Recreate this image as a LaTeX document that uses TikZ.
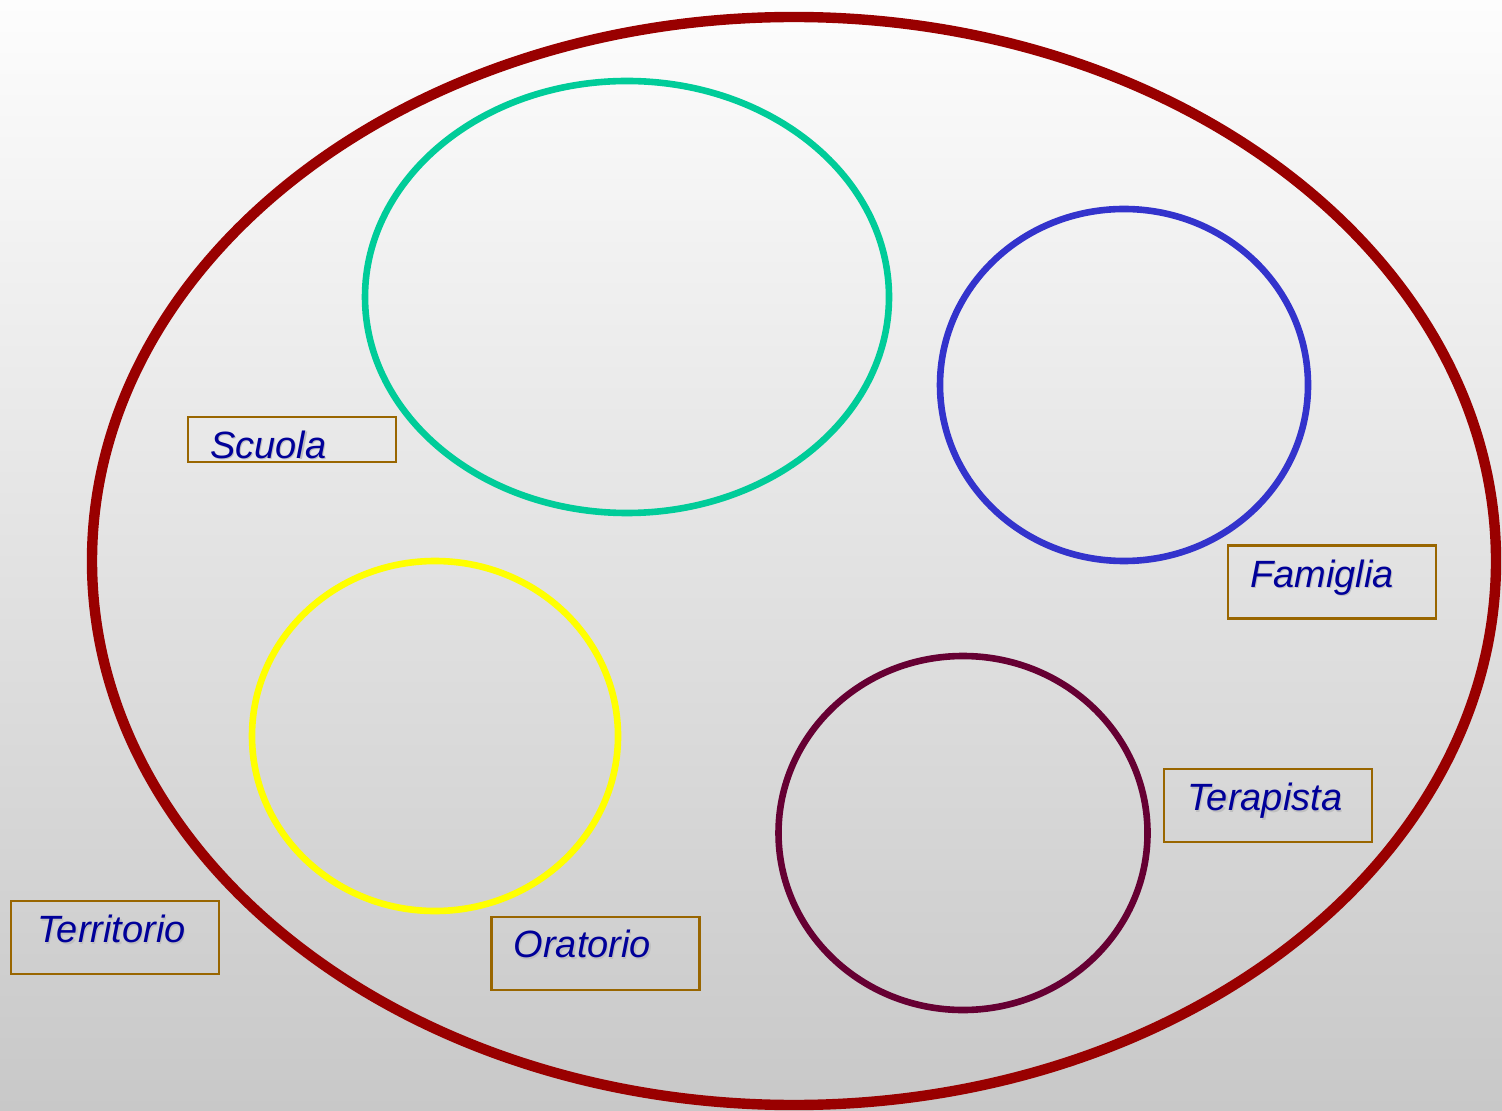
\documentclass[tikz,border=0pt]{standalone}
\usepackage{fontspec}
\setmainfont{Liberation Sans}
\usetikzlibrary{shapes.geometric, positioning}

\definecolor{bgtop}{RGB}{253,253,253}
\definecolor{bgbot}{RGB}{200,200,200}
\definecolor{outerred}{RGB}{153,0,0}
\definecolor{ringgreen}{RGB}{0,204,153}
\definecolor{ringblue}{RGB}{51,51,204}
\definecolor{ringyellow}{RGB}{255,255,0}
\definecolor{ringmaroon}{RGB}{102,0,51}
\definecolor{boxbrown}{RGB}{153,102,0}
\definecolor{txtblue}{RGB}{0,0,153}

% text with its light shadow
\newcommand{\shlabel}[1]{\rlap{\hspace{0.6pt}\raisebox{-0.6pt}{\color{black!25}#1}}#1}

\begin{document}
\begin{tikzpicture}[
                  x=0.5pt, y=0.5pt,
                  ring/.style={draw, ellipse, inner sep=0pt, line width=3.3pt},
                  tag/.style={draw=boxbrown, rectangle, line width=1.2pt, inner sep=0pt,
                              minimum width=104pt, minimum height=36.5pt},
                  tagtext/.style={anchor=base west, inner sep=0pt, text=txtblue,
                              font=\fontsize{19}{21}\selectfont\itshape},
            ]
            \fill[top color=bgtop, bottom color=bgbot] (0,0) rectangle (1502,-1111);
            \useasboundingbox (0,0) rectangle (1502,-1111);

            % big ellipse and the four rings
            \node[ring, draw=outerred, line width=5.2pt, minimum width=702pt,
                  minimum height=544pt] (world) at (794,-561) {};
            \node[ring, draw=ringgreen, minimum width=262pt, minimum height=216pt]
                  (school) at (627,-297) {};
            \node[ring, draw=ringblue, minimum width=184pt, minimum height=176pt]
                  (family) at (1124,-385) {};
            \node[ring, draw=ringyellow, minimum width=183pt, minimum height=175pt]
                  (oratory) at (435,-736) {};
            \node[ring, draw=ringmaroon, minimum width=184.5pt, minimum height=177pt]
                  (therapist) at (963,-833) {};

            % labels
            \node[tag, minimum height=22.5pt] (schoolbox) at (292,-439.5) {};
            \node[tag] (familybox) at (1332,-582) {};
            \node[tag] (therapistbox) at (1268,-805.5) {};
            \node[tag] (worldbox) at (115,-937.5) {};
            \node[tag] (oratorybox) at (595.5,-953.5) {};

            \node[tagtext] (schooltxt) at ([shift={(23,-43)}]schoolbox.north west)
                  {\shlabel{Scuola}};
            \node[tagtext] (familytxt) at ([shift={(23,-43)}]familybox.north west)
                  {\shlabel{Famiglia}};
            \node[tagtext] (therapisttxt) at ([shift={(24,-43)}]therapistbox.north west)
                  {\shlabel{Terapista}};
            \node[tagtext] (worldtxt) at ([shift={(27,-43)}]worldbox.north west)
                  {\shlabel{Territorio}};
            \node[tagtext] (oratorytxt) at ([shift={(23,-42)}]oratorybox.north west)
                  {\shlabel{Oratorio}};
      \end{tikzpicture}
\end{document}
